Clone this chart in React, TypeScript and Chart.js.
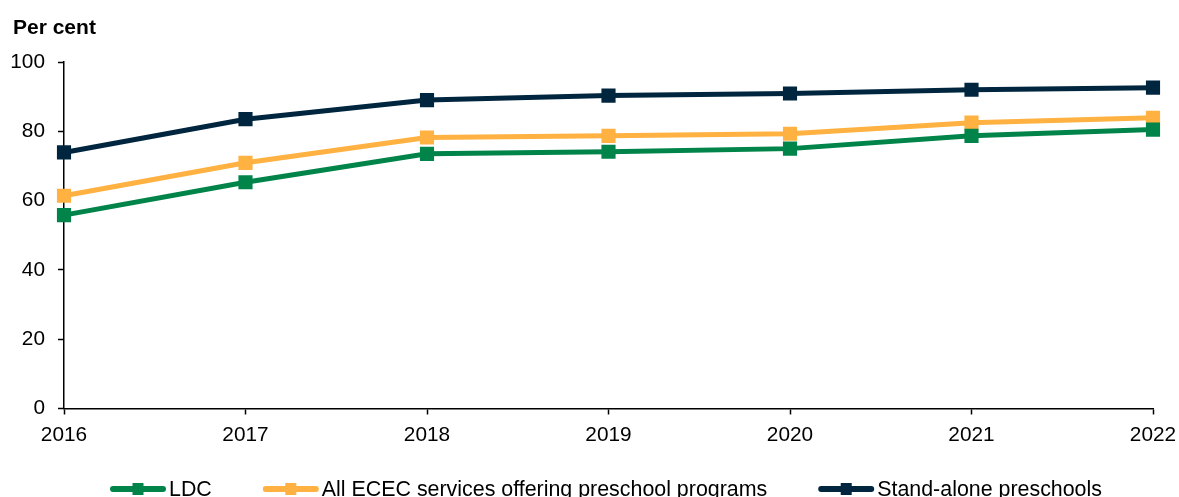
import React, { useEffect, useRef } from "react";
import { Chart, registerables } from "chart.js";

Chart.register(...registerables);

const years = ["2016", "2017", "2018", "2019", "2020", "2021", "2022"];
const ldc = [55.8, 65.3, 73.5, 74.1, 75.0, 78.7, 80.5];
const allEcec = [61.4, 70.9, 78.2, 78.7, 79.3, 82.5, 83.9];
const standAlone = [73.9, 83.5, 89.0, 90.3, 90.9, 92.0, 92.6];
const seriesNames = [
  "LDC",
  "All ECEC services offering preschool programs",
  "Stand-alone preschools",
];
const seriesColors = ["#00844A", "#FFB142", "#00263F"];
const yTitle = "Per cent";

const FONT = "Arial, 'Liberation Sans', sans-serif";

const overlayPlugin = {
  id: "overlay",
  afterDraw(chart: any) {
    const ctx = chart.ctx;
    ctx.save();
    // axis title
    ctx.fillStyle = "#000";
    ctx.font = `bold 21px ${FONT}`;
    ctx.textAlign = "left";
    ctx.textBaseline = "alphabetic";
    ctx.fillText(yTitle, 13, 33.5);

    // legend
    ctx.font = `21.4px ${FONT}`;
    let x = 110;
    const yMid = 489;
    chart.data.datasets.forEach((ds: any) => {
      const color = ds.borderColor;
      ctx.strokeStyle = color;
      ctx.lineWidth = 6;
      ctx.lineCap = "round";
      ctx.beginPath();
      ctx.moveTo(x + 3, yMid);
      ctx.lineTo(x + 53, yMid);
      ctx.stroke();
      ctx.fillStyle = color;
      ctx.fillRect(x + 28 - 5.5, yMid - 6, 11, 12);
      ctx.fillStyle = "#000";
      ctx.textBaseline = "alphabetic";
      ctx.fillText(ds.label, x + 59, 496);
      const w = ctx.measureText(ds.label).width;
      x = x + 59 + w + 51;
    });
    ctx.restore();
  },
};

export default function App() {
  const ref = useRef<HTMLCanvasElement | null>(null);
  useEffect(() => {
    if (!ref.current) return;
    const data = [ldc, allEcec, standAlone];
    const chart = new Chart(ref.current, {
      type: "line",
      data: {
        labels: years,
        datasets: data.map((d, i) => ({
          label: seriesNames[i],
          data: d,
          borderColor: seriesColors[i],
          backgroundColor: seriesColors[i],
          borderWidth: 5,
          tension: 0,
          pointStyle: "rect",
          pointRadius: 10,
          pointBorderWidth: 0,
          pointBackgroundColor: seriesColors[i],
          fill: false,
        })),
      },
      options: {
        animation: false,
        responsive: false,
        maintainAspectRatio: false,
        devicePixelRatio: 1,
        layout: { padding: { left: 0, right: 26, top: 62, bottom: 0 } },
        plugins: {
          legend: { display: false },
          tooltip: { enabled: false },
          title: { display: false },
        },
        scales: {
          x: {
            offset: false,
            grid: {
              display: true,
              drawOnChartArea: false,
              drawTicks: true,
              tickLength: 6,
              tickWidth: 1.5,
              tickColor: "#000",
            },
            border: { display: true, color: "#000", width: 1.5 },
            ticks: {
              color: "#000",
              font: { family: FONT, size: 20.8 },
              padding: 8,
              maxRotation: 0,
            },
            afterFit: (s: any) => {
              s.height = 88.5;
              s.paddingLeft = 0;
              s.paddingRight = 0;
            },
          },
          y: {
            min: 0,
            max: 100,
            grid: {
              display: true,
              drawOnChartArea: false,
              drawTicks: true,
              tickLength: 6,
              tickWidth: 1.5,
              tickColor: "#000",
            },
            border: { display: true, color: "#000", width: 1.5 },
            ticks: {
              stepSize: 20,
              color: "#000",
              font: { family: FONT, size: 20.8 },
              padding: 13,
            },
            afterFit: (s: any) => {
              s.width = 64;
              s.paddingTop = 0;
              s.paddingBottom = 0;
            },
          },
        },
      },
      plugins: [overlayPlugin],
    });
    return () => chart.destroy();
  }, []);
  return (
    <div style={{ position: "fixed", left: 0, top: 0, width: 1179, height: 497, background: "#fff" }}>
      <canvas ref={ref} width={1179} height={497} style={{ display: "block", width: 1179, height: 497 }} />
    </div>
  );
}
